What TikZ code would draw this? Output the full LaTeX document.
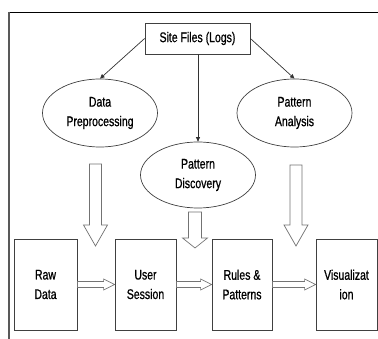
\documentclass[tikz,border=0pt]{standalone}
\usepackage{fontspec}
\setmainfont{Liberation Sans}[FakeStretch=0.75,FakeBold=0.8]
\usetikzlibrary{shapes.geometric,arrows.meta,calc}
\tikzset{
  linecol/.style={draw=black!75},
  sitebox/.style={linecol, line width=0.8pt, minimum width=105pt, minimum height=31pt, inner sep=0pt, font=\fontsize{14}{19.5}\selectfont},
  oval/.style={linecol, line width=0.7pt, ellipse, inner sep=0pt, align=center, font=\fontsize{14}{19.5}\selectfont},
  stepbox/.style={linecol, line width=0.8pt, minimum width=62pt, minimum height=91pt, inner sep=0pt, align=center, font=\fontsize{14}{19.5}\selectfont},
  conn/.style={black!80, line width=0.7pt, -{Triangle[width=4pt,length=4.5pt]}},
  hollow/.style={draw=black!55, line width=0.7pt, fill=white, line join=miter},
}
\newcommand\varrow[6]{%
  \draw[hollow] ({#1-#5},#2) -- ({#1+#5},#2) -- ({#1+#5},#3) -- ({#1+#6},#3) -- (#1,#4)
    -- ({#1-#6},#3) -- ({#1-#5},#3) -- cycle;}
\newcommand\harrow[2]{%
  \path (#1.east) coordinate (hA) (#2.west) coordinate (hB);
  \draw[hollow] let \p1=(hA), \p2=(hB) in
    (\x1,\y1+3pt) -- (\x2-11pt,\y1+3pt) -- (\x2-11pt,\y1+5.5pt) -- (\x2,\y1)
    -- (\x2-11pt,\y1-5.5pt) -- (\x2-11pt,\y1-3pt) -- (\x1,\y1-3pt) -- cycle;}
\begin{document}
\begin{tikzpicture}[x=1pt,y=-1pt]
\useasboundingbox (0,0) rectangle (378,339);
% frame
\draw[black, line width=0.9pt] (8.5,12) -- (378,12);
\draw[black!65, line width=1.2pt] (9,12) -- (9,339);
% nodes
\node[sitebox] (site) at (197.5,38.5) {Site Files (Logs)};
\node[oval, minimum width=115pt, minimum height=68pt] (dp) at (100,113) {Data\\Preprocessing};
\node[oval, minimum width=115pt, minimum height=68pt] (pa) at (294.5,113) {Pattern\\Analysis};
\node[oval, minimum width=115pt, minimum height=66pt] (pd) at (198,175) {Pattern\\Discovery};
\node[stepbox, minimum width=63pt] (raw) at (45.5,284.5) {Raw\\Data};
\node[stepbox, minimum width=61pt] (user) at (145.5,284.5) {User\\Session};
\node[stepbox, minimum width=60pt] (rules) at (242,284.5) {Rules \&\\Patterns};
\node[stepbox, minimum width=61pt] (vis) at (346.5,284.5) {Visualizat\\ion};
% thin connectors
\draw[conn] (site.west) -- (dp.north);
\draw[conn] (site.east) -- (pa.north);
\draw[conn] (site.south -| pd.north) -- (pd.north);
% vertical hollow arrows
\varrow{95.5}{164}{225}{246}{6}{12}
\varrow{195}{212}{238}{248}{6.5}{12.5}
\varrow{296}{165}{225}{246}{6}{12}
% horizontal hollow arrows
\harrow{raw}{user}
\harrow{user}{rules}
\harrow{rules}{vis}
\end{tikzpicture}
\end{document}
